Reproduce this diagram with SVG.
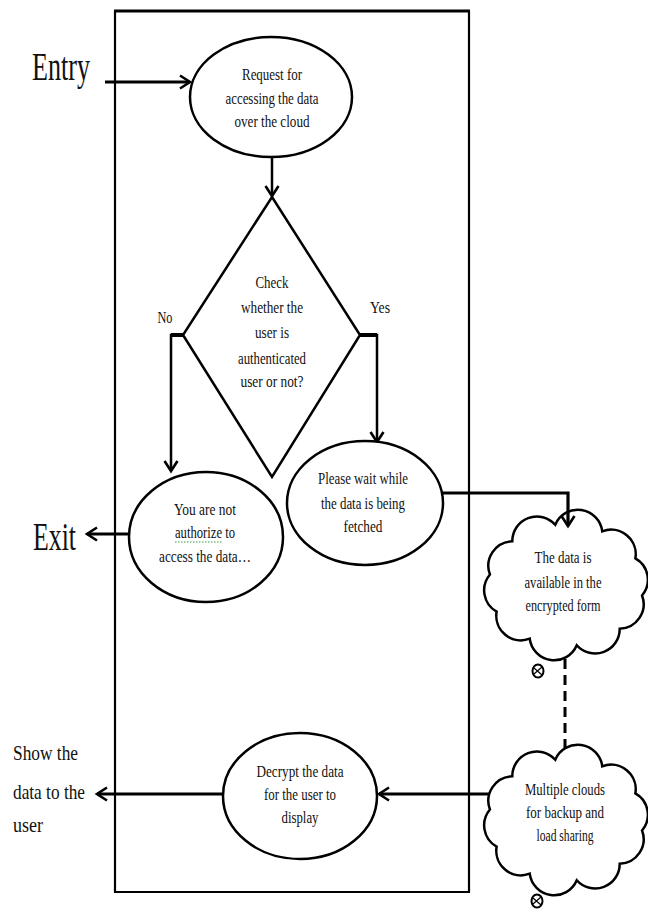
<svg xmlns="http://www.w3.org/2000/svg" width="648" height="913" viewBox="0 0 648 913">
<style>
.t{font-family:"Liberation Serif","Times New Roman",serif;font-size:16px;fill:#111;text-anchor:middle}
.big{font-family:"Liberation Serif","Times New Roman",serif;font-size:40px;fill:#111}
.side{font-family:"Liberation Serif","Times New Roman",serif;font-size:21px;fill:#111}
.shape{fill:#fff;stroke:#000;stroke-width:2.5}
.ln{fill:none;stroke:#000;stroke-width:2.5}
.thick{fill:none;stroke:#000;stroke-width:3.2}
</style>
<defs>
<marker id="arr" markerWidth="16" markerHeight="16" refX="12" refY="8" orient="auto" markerUnits="userSpaceOnUse">
<path d="M2,1.5 L12,8 L2,14.5" fill="none" stroke="#000" stroke-width="2.6"/>
</marker>
<path id="cloud" d="M631,594 A21,21 0 0 1 611.9,622.4 A21,21 0 0 1 575.2,636.5 A21,21 0 0 1 535,630.9 A21,21 0 0 1 506.7,607.8 A21,21 0 0 1 501,576 A21,21 0 0 1 520.1,547.6 A21,21 0 0 1 556.8,533.5 A21,21 0 0 1 597,539.1 A21,21 0 0 1 625.3,562.2 A21,21 0 0 1 631,594 Z" fill="#fff" stroke="#000" stroke-width="2.5" vector-effect="non-scaling-stroke" transform="translate(566,585) scale(1.17,1.17) translate(-566,-585)"/>
<g id="bubble">
<ellipse cx="0" cy="0" rx="5.5" ry="6.5" fill="#fff" stroke="#000" stroke-width="2"/>
<path d="M-4,-3 L4,4 M-4,3 L4,-4" stroke="#000" stroke-width="1.2" fill="none"/>
</g>
</defs>
<rect width="648" height="913" fill="#fff"/>

<g id="frame">
<path d="M115,11 L115,892 L469,892 L469,11" fill="none" stroke="#000" stroke-width="2.2"/>
<line x1="114" y1="11" x2="470" y2="11" stroke="#000" stroke-width="3"/>
</g>

<g id="encrypted">
<use href="#cloud"/>
<use href="#bubble" x="538" y="671"/>
<text class="t" x="563" y="563" textLength="57" lengthAdjust="spacingAndGlyphs">The data is</text>
<text class="t" x="563" y="588" textLength="77" lengthAdjust="spacingAndGlyphs">available in the</text>
<text class="t" x="563" y="611" textLength="75" lengthAdjust="spacingAndGlyphs">encrypted form</text>
</g>

<g id="multiclouds">
<use href="#cloud" y="235"/>
<use href="#bubble" x="537" y="901"/>
<text class="t" x="565" y="795" textLength="80" lengthAdjust="spacingAndGlyphs">Multiple clouds</text>
<text class="t" x="565" y="818" textLength="78" lengthAdjust="spacingAndGlyphs">for backup and</text>
<text class="t" x="565" y="841" textLength="57" lengthAdjust="spacingAndGlyphs">load sharing</text>
</g>

<g id="connectors">
<line class="thick" x1="105" y1="82" x2="190" y2="82" marker-end="url(#arr)"/>
<line class="ln" x1="272" y1="157" x2="272" y2="196" marker-end="url(#arr)"/>
<polyline class="ln" points="183,335 171,335 171,471" marker-end="url(#arr)"/>
<line x1="171" y1="335" x2="184" y2="335" stroke="#000" stroke-width="4"/>
<polyline class="ln" points="360,335 377,335 377,442" marker-end="url(#arr)"/>
<line x1="360" y1="335" x2="377" y2="335" stroke="#000" stroke-width="4"/>
<line class="thick" x1="130" y1="534" x2="87" y2="534" marker-end="url(#arr)"/>
<polyline class="thick" points="443,493 568,493 568,526" marker-end="url(#arr)"/>
<line x1="565" y1="659" x2="565" y2="752" stroke="#000" stroke-width="3" stroke-dasharray="10,6"/>
<line class="thick" x1="490" y1="794" x2="379" y2="794" marker-end="url(#arr)"/>
<line class="thick" x1="223" y1="794" x2="97" y2="794" marker-end="url(#arr)"/>
</g>

<g id="entry">
<text class="big" x="32" y="80" textLength="58" lengthAdjust="spacingAndGlyphs">Entry</text>
</g>
<g id="exit">
<text class="big" x="33" y="550" textLength="43" lengthAdjust="spacingAndGlyphs">Exit</text>
</g>
<g id="show">
<text class="side" x="13" y="760" textLength="65" lengthAdjust="spacingAndGlyphs">Show the</text>
<text class="side" x="13" y="799" textLength="72" lengthAdjust="spacingAndGlyphs">data to the</text>
<text class="side" x="13" y="832" textLength="30" lengthAdjust="spacingAndGlyphs">user</text>
</g>

<g id="request">
<ellipse class="shape" cx="271" cy="97" rx="81" ry="60"/>
<text class="t" x="272" y="80" textLength="60" lengthAdjust="spacingAndGlyphs">Request for</text>
<text class="t" x="272" y="104" textLength="93" lengthAdjust="spacingAndGlyphs">accessing the data</text>
<text class="t" x="272" y="127" textLength="75" lengthAdjust="spacingAndGlyphs">over the cloud</text>
</g>

<g id="check">
<polygon class="shape" points="272,197 360,335 272,477 183,335"/>
<text class="t" x="272" y="288" textLength="33" lengthAdjust="spacingAndGlyphs">Check</text>
<text class="t" x="272" y="313" textLength="62" lengthAdjust="spacingAndGlyphs">whether the</text>
<text class="t" x="272" y="338" textLength="34" lengthAdjust="spacingAndGlyphs">user is</text>
<text class="t" x="272" y="364" textLength="68" lengthAdjust="spacingAndGlyphs">authenticated</text>
<text class="t" x="272" y="387" textLength="63" lengthAdjust="spacingAndGlyphs">user or not?</text>
</g>
<g id="labels">
<text class="t" x="165" y="323" textLength="15" lengthAdjust="spacingAndGlyphs">No</text>
<text class="t" x="380" y="313" textLength="20" lengthAdjust="spacingAndGlyphs">Yes</text>
</g>

<g id="notauth">
<ellipse class="shape" cx="206" cy="537" rx="77" ry="65"/>
<text class="t" x="205" y="515" textLength="62" lengthAdjust="spacingAndGlyphs">You are not</text>
<text class="t" x="205" y="538" textLength="60" lengthAdjust="spacingAndGlyphs">authorize to</text>
<line x1="175" y1="542" x2="223" y2="542" stroke="#3a9a3a" stroke-width="1" stroke-dasharray="1.5,1.5"/>
<text class="t" x="205" y="562" textLength="92" lengthAdjust="spacingAndGlyphs">access the data…</text>
</g>

<g id="wait">
<ellipse class="shape" cx="365" cy="503" rx="78" ry="62"/>
<text class="t" x="363" y="484" textLength="90" lengthAdjust="spacingAndGlyphs">Please wait while</text>
<text class="t" x="363" y="509" textLength="84" lengthAdjust="spacingAndGlyphs">the data is being</text>
<text class="t" x="363" y="532" textLength="39" lengthAdjust="spacingAndGlyphs">fetched</text>
</g>

<g id="decrypt">
<ellipse class="shape" cx="300" cy="796" rx="77" ry="63"/>
<text class="t" x="300" y="777" textLength="87" lengthAdjust="spacingAndGlyphs">Decrypt the data</text>
<text class="t" x="300" y="800" textLength="72" lengthAdjust="spacingAndGlyphs">for the user to</text>
<text class="t" x="300" y="823" textLength="37" lengthAdjust="spacingAndGlyphs">display</text>
</g>
</svg>
